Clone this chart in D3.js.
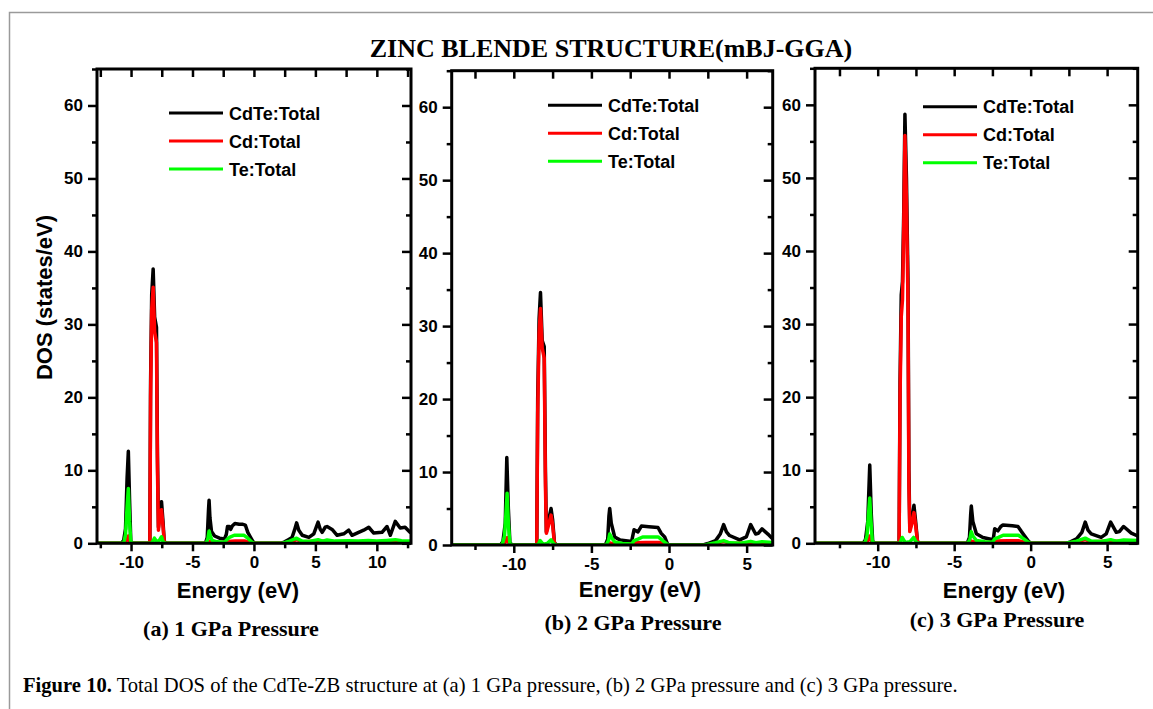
<!DOCTYPE html>
<html>
<head>
<meta charset="utf-8">
<script src="https://cdn.jsdelivr.net/npm/d3@7"></script>
<style>
  html, body { margin: 0; padding: 0; background: #fff; }
  svg { display: block; }
  .tick text { font-family: "Liberation Sans", Arial, sans-serif; font-weight: bold; font-size: 17px; fill: #000; }
  .tick line { stroke: #000; stroke-width: 2.5; }
  .axis-title { font-family: "Liberation Sans", Arial, sans-serif; font-weight: bold; font-size: 22px; }
  .legend-text { font-family: "Liberation Sans", Arial, sans-serif; font-weight: bold; font-size: 18px; }
  .serif-bold { font-family: "Liberation Serif", "Times New Roman", serif; font-weight: bold; }
  .caption { font-family: "Liberation Serif", "Times New Roman", serif; font-size: 21px; }
</style>
</head>
<body>
<script>
// Total density of states of zinc blende CdTe at three pressures.
// Each series is a list of [energy (eV), DOS (states/eV)] points.

const seriesNames = ["CdTe:Total", "Cd:Total", "Te:Total"];
const seriesColors = ["#000000", "#ff0000", "#00ff00"];
const panelCaptions = ["(a) 1 GPa Pressure", "(b) 2 GPa Pressure", "(c) 3 GPa Pressure"];
const yTicksMajor = [0, 10, 20, 30, 40, 50, 60];

// 1 GPa
const cdteTotal1 = [
  [-12.9, 0], [-10.8, 0], [-10.6, 0.4], [-10.45, 2.0], [-10.32, 9], [-10.22, 12.6], [-10.12, 6], [-10.02, 0.3], [-9.9, 0],
  [-8.47, 0], [-8.41, 22], [-8.32, 34], [-8.2, 37.6], [-8.08, 31], [-7.93, 29.6], [-7.85, 12], [-7.77, 2.2], [-7.65, 4.6],
  [-7.52, 5.7], [-7.4, 3], [-7.3, 0.3], [-7.15, 0],
  [-3.95, 0], [-3.8, 0.8], [-3.7, 4.5], [-3.65, 5.9], [-3.58, 3.5], [-3.45, 1.6], [-3.2, 1.0], [-2.8, 0.7], [-2.4, 0.6],
  [-2.25, 1.2], [-2.15, 2.3], [-2.0, 2.3], [-1.9, 1.9], [-1.75, 2.4], [-1.55, 2.7], [-1.2, 2.6], [-0.9, 2.6], [-0.7, 2.5],
  [-0.5, 1.5], [-0.3, 0.9], [-0.1, 0.3], [0.05, 0],
  [2.2, 0], [2.5, 0.2], [2.8, 0.5], [3.1, 0.8], [3.3, 1.8], [3.47, 2.8], [3.65, 1.8], [3.93, 1.1], [4.47, 0.8], [4.87, 1.3],
  [5.22, 2.9], [5.4, 1.9], [5.55, 1.5], [5.8, 2.2], [5.95, 2.3], [6.36, 1.9], [6.77, 1.1], [7.31, 1.3], [7.71, 1.8],
  [7.98, 1.1], [8.52, 1.5], [8.93, 1.8], [9.34, 2.2], [9.75, 1.4], [10.42, 1.5], [10.83, 2.3], [11.1, 1.1], [11.5, 3.0],
  [11.9, 2.1], [12.3, 2.2], [12.7, 1.5], [12.9, 1.4]
];
const cdTotal1 = [
  [-12.9, 0], [-10.5, 0], [-10.3, 0.6], [-10.22, 1.0], [-10.1, 0.2], [-10.0, 0],
  [-8.47, 0], [-8.41, 20], [-8.32, 32], [-8.2, 35.1], [-8.08, 29], [-7.93, 27.5], [-7.85, 10], [-7.77, 1.8], [-7.65, 3.8],
  [-7.52, 4.6], [-7.4, 2.4], [-7.3, 0.2], [-7.15, 0],
  [-3.8, 0], [-3.65, 0.3], [-3.4, 0.1], [-2.3, 0.1], [-2.1, 0.25], [-1.5, 0.3], [-0.7, 0.3], [-0.3, 0.15], [0, 0],
  [2.4, 0], [3.0, 0.2], [3.47, 0.5], [4.0, 0.2], [5.2, 0.3], [6.0, 0.25], [8.0, 0.15], [10.0, 0.15], [12.9, 0.1]
];
const teTotal1 = [
  [-12.9, 0], [-10.6, 0], [-10.45, 1.2], [-10.32, 5], [-10.22, 7.5], [-10.12, 3], [-10.02, 0.2], [-9.9, 0],
  [-8.3, 0], [-8.1, 0.7], [-7.9, 0.2], [-7.7, 0.4], [-7.52, 0.9], [-7.4, 0.2], [-7.2, 0],
  [-3.9, 0], [-3.75, 0.6], [-3.65, 1.7], [-3.55, 1.0], [-3.4, 0.4], [-3.0, 0.2], [-2.4, 0.15], [-2.2, 0.5], [-2.0, 0.8],
  [-1.6, 1.1], [-0.8, 1.1], [-0.5, 0.7], [-0.2, 0.2], [0, 0],
  [2.3, 0], [2.9, 0.3], [3.47, 0.7], [3.9, 0.3], [4.5, 0.25], [5.22, 0.5], [5.6, 0.3], [5.95, 0.45], [6.6, 0.3],
  [7.7, 0.35], [8.5, 0.3], [9.3, 0.4], [10.0, 0.3], [10.8, 0.4], [11.5, 0.5], [12.0, 0.35], [12.9, 0.3]
];

// 2 GPa
const cdteTotal2 = [
  [-14.2, 0], [-10.85, 0], [-10.7, 0.5], [-10.55, 3], [-10.45, 12.0], [-10.35, 5], [-10.25, 0.3], [-10.1, 0],
  [-8.52, 0], [-8.46, 20], [-8.37, 31], [-8.28, 34.6], [-8.17, 28], [-8.04, 27.2], [-7.96, 10], [-7.9, 1.8], [-7.75, 3.5],
  [-7.6, 5.0], [-7.5, 3.5], [-7.38, 0.3], [-7.25, 0],
  [-4.1, 0], [-3.95, 0.8], [-3.87, 4.0], [-3.82, 5.0], [-3.72, 3.0], [-3.5, 1.1], [-3.17, 0.7], [-2.53, 0.5], [-2.4, 0.6],
  [-2.25, 2.1], [-2.0, 1.8], [-1.78, 2.6], [-1.3, 2.5], [-0.71, 2.4], [-0.5, 1.6], [-0.28, 1.1], [-0.07, 0],
  [2.2, 0], [2.5, 0.2], [3.0, 0.6], [3.3, 1.5], [3.52, 2.8], [3.7, 1.8], [3.9, 1.3], [4.55, 0.7], [4.98, 1.1],
  [5.26, 2.8], [5.58, 1.5], [5.75, 1.6], [5.99, 2.2], [6.37, 1.5], [6.7, 0.8]
];
const cdTotal2 = [
  [-14.2, 0], [-10.65, 0], [-10.5, 0.6], [-10.43, 1.0], [-10.3, 0.2], [-10.2, 0],
  [-8.52, 0], [-8.46, 18], [-8.37, 29], [-8.28, 32.4], [-8.17, 27], [-8.04, 25.6], [-7.96, 8], [-7.9, 1.6], [-7.75, 2.8],
  [-7.6, 4.1], [-7.5, 2.8], [-7.38, 0.2], [-7.25, 0],
  [-3.9, 0], [-3.82, 0.3], [-3.5, 0.1], [-2.3, 0.1], [-2.15, 0.3], [-1.5, 0.35], [-0.6, 0.35], [-0.3, 0.15], [0, 0],
  [2.4, 0], [3.0, 0.2], [3.52, 0.5], [4.0, 0.2], [5.26, 0.3], [6.0, 0.25], [6.7, 0.2]
];
const teTotal2 = [
  [-14.2, 0], [-10.75, 0], [-10.6, 1.2], [-10.5, 4.5], [-10.43, 7.1], [-10.35, 3], [-10.25, 0.2], [-10.1, 0],
  [-8.45, 0], [-8.3, 0.6], [-8.1, 0.1], [-7.85, 0.2], [-7.6, 0.7], [-7.45, 0.2], [-7.3, 0],
  [-4.05, 0], [-3.9, 0.6], [-3.82, 1.5], [-3.7, 1.0], [-3.5, 0.4], [-3.0, 0.2], [-2.4, 0.15], [-2.25, 0.6], [-2.0, 0.8],
  [-1.7, 1.1], [-0.7, 1.1], [-0.4, 0.6], [-0.15, 0.15], [0, 0],
  [2.3, 0], [3.0, 0.3], [3.52, 0.6], [3.9, 0.3], [4.6, 0.25], [5.26, 0.5], [5.6, 0.3], [5.99, 0.45], [6.7, 0.35]
];

// 3 GPa
const cdteTotal3 = [
  [-14.2, 0], [-10.95, 0], [-10.8, 0.5], [-10.65, 3], [-10.52, 10.7], [-10.42, 4], [-10.33, 0.3], [-10.2, 0],
  [-8.6, 0], [-8.54, 22], [-8.46, 34], [-8.38, 35.8], [-8.3, 45], [-8.22, 58.7], [-8.12, 50], [-8.02, 36], [-7.96, 10],
  [-7.9, 1.8], [-7.75, 3.5], [-7.63, 5.2], [-7.52, 3], [-7.4, 0.3], [-7.28, 0],
  [-4.15, 0], [-4.0, 0.8], [-3.92, 4.0], [-3.88, 5.1], [-3.78, 3.0], [-3.55, 1.3], [-3.12, 0.8], [-2.68, 0.6], [-2.45, 0.5],
  [-2.35, 2.0], [-2.14, 1.7], [-1.95, 2.3], [-1.81, 2.5], [-1.2, 2.4], [-0.83, 2.3], [-0.6, 1.6], [-0.39, 1.0],
  [-0.15, 0.3], [0, 0],
  [2.3, 0], [2.6, 0.2], [3.0, 0.6], [3.35, 1.5], [3.57, 2.9], [3.75, 1.8], [3.96, 1.3], [4.61, 0.8], [4.94, 1.3],
  [5.23, 2.9], [5.6, 1.5], [5.8, 1.6], [6.08, 2.3], [6.58, 1.4], [7.0, 1.0], [7.2, 0.9]
];
const cdTotal3 = [
  [-14.2, 0], [-10.75, 0], [-10.6, 0.6], [-10.52, 1.0], [-10.4, 0.2], [-10.3, 0],
  [-8.6, 0], [-8.54, 20], [-8.46, 31], [-8.38, 33.3], [-8.3, 43], [-8.22, 55.8], [-8.12, 47], [-8.02, 33], [-7.96, 8],
  [-7.9, 1.6], [-7.75, 2.8], [-7.63, 4.2], [-7.52, 2.5], [-7.4, 0.2], [-7.28, 0],
  [-4.0, 0], [-3.88, 0.3], [-3.5, 0.1], [-2.45, 0.1], [-2.3, 0.3], [-1.5, 0.35], [-0.8, 0.35], [-0.4, 0.15], [0, 0],
  [2.4, 0], [3.0, 0.2], [3.57, 0.5], [4.0, 0.2], [5.23, 0.3], [6.08, 0.25], [7.2, 0.2]
];
const teTotal3 = [
  [-14.2, 0], [-10.85, 0], [-10.7, 1.0], [-10.6, 4], [-10.52, 6.2], [-10.44, 3], [-10.35, 0.2], [-10.2, 0],
  [-8.55, 0], [-8.4, 0.8], [-8.2, 0.1], [-7.9, 0.2], [-7.65, 0.8], [-7.5, 0.2], [-7.35, 0],
  [-4.1, 0], [-3.97, 0.6], [-3.88, 1.6], [-3.78, 1.0], [-3.55, 0.4], [-3.0, 0.2], [-2.5, 0.15], [-2.35, 0.6],
  [-2.1, 0.8], [-1.8, 1.1], [-0.8, 1.1], [-0.45, 0.6], [-0.15, 0.15], [0, 0],
  [2.3, 0], [3.0, 0.3], [3.57, 0.7], [3.95, 0.3], [4.6, 0.25], [5.23, 0.5], [5.6, 0.3], [6.08, 0.45], [7.2, 0.35]
];

const width = 1153;
const height = 709;

// Plot boxes, energy window and label anchors for each pressure.
const panels = [
  { left: 97, right: 411, top: 69, bottom: 543.3, xDomain: [-12.77, 12.78], legendX: 169, legendY: 113,
    titleX: 238, titleY: 598, captionX: 231, captionY: 636, showYTitle: true,
    series: [cdteTotal1, cdTotal1, teTotal1] },
  { left: 451.7, right: 772.7, top: 70.7, bottom: 545, xDomain: [-14, 6.68], legendX: 548, legendY: 105.3,
    titleX: 640, titleY: 597, captionX: 633, captionY: 630, showYTitle: false,
    series: [cdteTotal2, cdTotal2, teTotal2] },
  { left: 815, right: 1137.7, top: 68.3, bottom: 543.3, xDomain: [-14.1, 7.0], legendX: 923, legendY: 106.7,
    titleX: 1004, titleY: 598, captionX: 997, captionY: 627, showYTitle: false,
    series: [cdteTotal3, cdTotal3, teTotal3] }
];

const svg = d3.select("body").append("svg")
  .attr("width", width)
  .attr("height", height)
  .attr("viewBox", "0 0 " + width + " " + height);

svg.append("rect").attr("width", width).attr("height", height).attr("fill", "#fff");

// Page frame: only the top and left edges fall inside the view.
svg.append("path")
  .attr("d", "M9.5," + height + "V12.5H" + width)
  .attr("fill", "none")
  .attr("stroke", "#9a9a9a")
  .attr("stroke-width", 1.5);

svg.append("text")
  .attr("class", "serif-bold")
  .attr("x", 611)
  .attr("y", 56.5)
  .attr("text-anchor", "middle")
  .attr("font-size", 26)
  .text("ZINC BLENDE STRUCTURE(mBJ-GGA)");

function stepTicks(domain, step, skip) {
  const start = Math.ceil(domain[0] / step) * step;
  return d3.range(start, domain[1] + 1e-9, step).filter(function keep(v) {
    return !skip || Math.abs(v / skip - Math.round(v / skip)) > 1e-6;
  });
}

function styleAxis(g) {
  g.select(".domain").remove();
}

function drawPanel(p, index) {
  const x = d3.scaleLinear().domain(p.xDomain).range([p.left, p.right]);
  const y = d3.scaleLinear().domain([0, 65]).range([p.bottom, p.top]);
  const g = svg.append("g");

  const clipId = "clip-" + index;
  svg.append("clipPath").attr("id", clipId)
    .append("rect")
    .attr("x", p.left).attr("y", p.top)
    .attr("width", p.right - p.left).attr("height", p.bottom - p.top);

  const xMajor = stepTicks(p.xDomain, 5);
  const xMinor = stepTicks(p.xDomain, 2.5, 5);
  const yMinor = stepTicks([0, 65], 5, 10);
  const fmt = function label(d) { return String(d); };

  // Bottom and left axes carry labels, ticks pointing out.
  g.append("g").attr("transform", "translate(0," + p.bottom + ")")
    .call(d3.axisBottom(x).tickValues(xMajor).tickFormat(fmt).tickSize(8).tickSizeOuter(0).tickPadding(5))
    .call(styleAxis);
  g.append("g").attr("transform", "translate(0," + p.bottom + ")")
    .call(d3.axisBottom(x).tickValues(xMinor).tickFormat("").tickSize(5).tickSizeOuter(0))
    .call(styleAxis);
  g.append("g").attr("transform", "translate(" + p.left + ",0)")
    .call(d3.axisLeft(y).tickValues(yTicksMajor).tickFormat(fmt).tickSize(9).tickSizeOuter(0).tickPadding(5))
    .call(styleAxis);
  g.append("g").attr("transform", "translate(" + p.left + ",0)")
    .call(d3.axisLeft(y).tickValues(yMinor).tickFormat("").tickSize(5).tickSizeOuter(0))
    .call(styleAxis);

  // Mirrored top and right axes, ticks pointing in.
  g.append("g").attr("transform", "translate(0," + p.top + ")")
    .call(d3.axisBottom(x).tickValues(xMajor.concat(xMinor)).tickFormat("").tickSize(8).tickSizeOuter(0))
    .call(styleAxis);
  g.append("g").attr("transform", "translate(" + p.right + ",0)")
    .call(d3.axisLeft(y).tickValues(yTicksMajor).tickFormat("").tickSize(9).tickSizeOuter(0))
    .call(styleAxis);
  g.append("g").attr("transform", "translate(" + p.right + ",0)")
    .call(d3.axisLeft(y).tickValues(yMinor).tickFormat("").tickSize(5).tickSizeOuter(0))
    .call(styleAxis);

  const line = d3.line()
    .x(function px(d) { return x(d[0]); })
    .y(function py(d) { return y(d[1]); });

  const curves = g.append("g").attr("clip-path", "url(#" + clipId + ")");
  p.series.forEach(function drawSeries(points, i) {
    curves.append("path")
      .datum(points)
      .attr("d", line)
      .attr("fill", "none")
      .attr("stroke", seriesColors[i])
      .attr("stroke-width", 3.5)
      .attr("stroke-linejoin", "round");
  });

  // Plot frame
  g.append("rect")
    .attr("x", p.left).attr("y", p.top)
    .attr("width", p.right - p.left).attr("height", p.bottom - p.top)
    .attr("fill", "none")
    .attr("stroke", "#000")
    .attr("stroke-width", 3);

  // Legend
  seriesNames.forEach(function drawLegendRow(name, i) {
    const ly = p.legendY + i * 28;
    g.append("line")
      .attr("x1", p.legendX).attr("x2", p.legendX + 54)
      .attr("y1", ly).attr("y2", ly)
      .attr("stroke", seriesColors[i])
      .attr("stroke-width", 3);
    g.append("text")
      .attr("class", "legend-text")
      .attr("x", p.legendX + 60)
      .attr("y", ly + 6.5)
      .text(name);
  });

  g.append("text")
    .attr("class", "axis-title")
    .attr("x", p.titleX)
    .attr("y", p.titleY)
    .attr("text-anchor", "middle")
    .text("Energy (eV)");

  if (p.showYTitle) {
    g.append("text")
      .attr("class", "axis-title")
      .attr("transform", "translate(52,297.5) rotate(-90)")
      .attr("text-anchor", "middle")
      .text("DOS (states/eV)");
  }

  g.append("text")
    .attr("class", "serif-bold")
    .attr("x", p.captionX)
    .attr("y", p.captionY)
    .attr("text-anchor", "middle")
    .attr("font-size", 22)
    .text(panelCaptions[index]);
}

panels.forEach(drawPanel);

// Figure caption, squeezed to the width of the condensed text face.
const caption = svg.append("text")
  .attr("class", "caption")
  .attr("x", 0)
  .attr("y", 0);
caption.append("tspan").attr("font-weight", "bold").text("Figure 10.");
caption.append("tspan").text(" Total DOS of the CdTe-ZB structure at (a) 1 GPa pressure, (b) 2 GPa pressure and (c) 3 GPa pressure.");
const captionWidth = caption.node().getComputedTextLength();
caption.attr("transform", "translate(23,692) scale(" + (935 / captionWidth) + ",1)");
</script>
</body>
</html>
